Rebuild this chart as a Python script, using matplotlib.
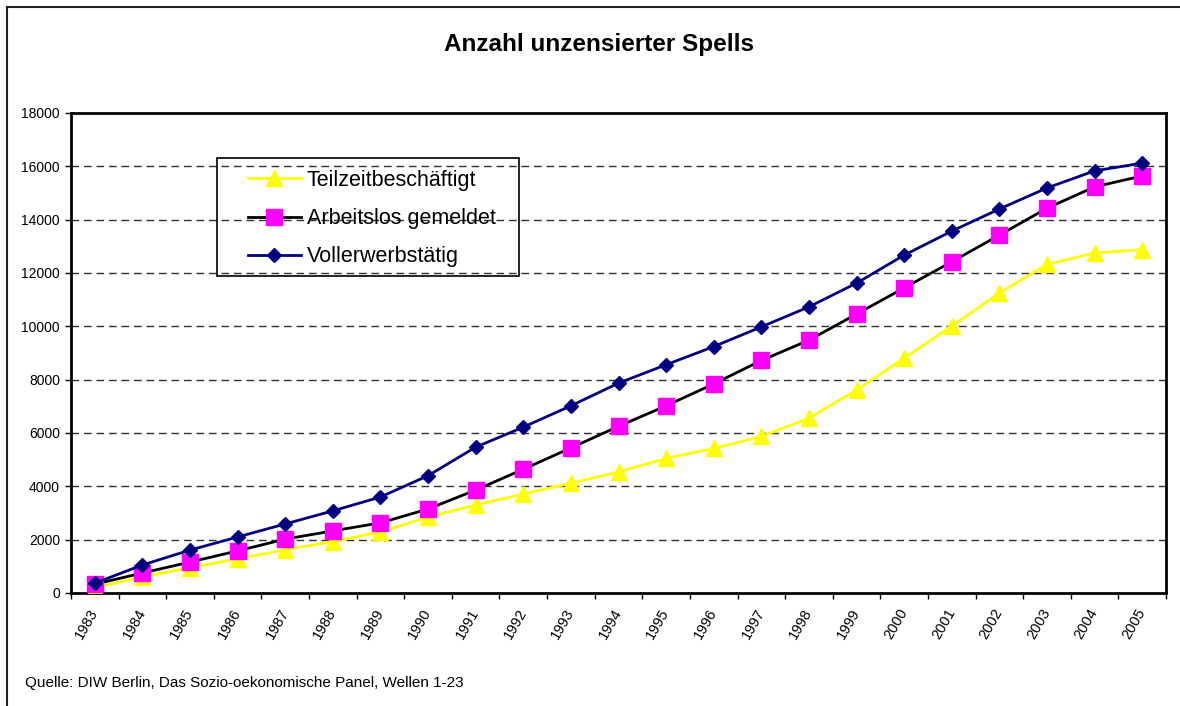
import matplotlib
matplotlib.use("Agg")
import matplotlib.pyplot as plt
from matplotlib.patches import Rectangle
from matplotlib.transforms import ScaledTranslation
import numpy as np

plt.rcParams["font.family"] = ["Liberation Sans", "DejaVu Sans"]

years = [str(y) for y in range(1983, 2006)]

teilzeit = [200, 600, 950, 1280, 1620, 1930, 2290, 2850, 3300, 3710, 4120, 4540,
            5050, 5420, 5870, 6560, 7610, 8810, 10010, 11250, 12320, 12750, 12880]
arbeitslos = [330, 750, 1160, 1580, 2020, 2330, 2630, 3150, 3860, 4640, 5440, 6250,
              7020, 7840, 8720, 9480, 10460, 11440, 12420, 13420, 14430, 15230, 15640]
voll = [370, 1050, 1610, 2100, 2590, 3080, 3600, 4400, 5470, 6220, 7020, 7870,
        8560, 9240, 9980, 10730, 11620, 12670, 13570, 14400, 15190, 15830, 16120]

W, H = 1180, 706
fig = plt.figure(figsize=(W / 100, H / 100), dpi=100)
ax = fig.add_axes([71 / W, 1 - 593 / H, (1166 - 71) / W, (593 - 113) / H])

x = np.arange(len(years))
ax.plot(x, teilzeit, color="#FFFF00", lw=2, marker="^", ms=11,
        mfc="#FFFF00", mec="#FFFF00", label="Teilzeitbeschäftigt", zorder=3)
ax.plot(x, arbeitslos, color="black", lw=2, marker="s", ms=11,
        mfc="#FF00FF", mec="#FF00FF", label="Arbeitslos gemeldet", zorder=4)
ax.plot(x, voll, color="#000080", lw=2, marker="D", ms=7.5,
        mfc="#000080", mec="#000080", label="Vollerwerbstätig", zorder=5)

ax.set_xlim(-0.5, len(years) - 0.5)
ax.set_ylim(0, 18000)
ax.set_yticks(np.arange(0, 18001, 2000))
ax.set_yticklabels([str(v) for v in range(0, 18001, 2000)], fontsize=10)
for v in range(2000, 18000, 2000):
    ax.axhline(v, color="#303030", lw=1, dashes=(5.5, 3.5), zorder=1)

ax.set_xticks(x)
ax.set_xticklabels(years, fontsize=10.5, rotation=60, ha="right", va="center",
                   rotation_mode="anchor")
shift = ScaledTranslation(-3 / 100, 0, fig.dpi_scale_trans)
for lbl in ax.get_xticklabels():
    lbl.set_transform(lbl.get_transform() + shift)
ax.set_xticks(np.arange(-0.5, len(years)), minor=True)
ax.tick_params(axis="x", which="major", length=0, pad=12)
ax.tick_params(axis="x", which="minor", length=4, width=1, direction="out")
ax.tick_params(axis="y", length=4, width=1, direction="out", pad=4)

for side in ["left", "bottom", "top", "right"]:
    ax.spines[side].set_linewidth(2)
    ax.spines[side].set_color("black")

leg = ax.legend(loc="upper left", bbox_to_anchor=(248 / W, 1 - 170 / H),
                bbox_transform=fig.transFigure, frameon=False, fontsize=15.5,
                handlelength=2.45, handletextpad=0.28, labelspacing=0.8,
                borderaxespad=0, borderpad=0)
fig.add_artist(Rectangle((217 / W, 1 - 276 / H), (519 - 217) / W, (276 - 158) / H,
                         transform=fig.transFigure, fill=False, ec="black",
                         lw=1.2, zorder=6))

fig.text(599 / W, 1 - 45 / H, "Anzahl unzensierter Spells", ha="center",
         va="center", fontsize=17.5, fontweight="bold")
fig.text(25 / W, 1 - 683 / H, "Quelle: DIW Berlin, Das Sozio-oekonomische Panel, Wellen 1-23",
         ha="left", va="center", fontsize=11)

fig.add_artist(Rectangle((7 / W, -0.1), 1.2, 1.1 - 7 / H, transform=fig.transFigure,
                         fill=False, ec="#222222", lw=1.5))

fig.savefig("out.png", dpi=100)
